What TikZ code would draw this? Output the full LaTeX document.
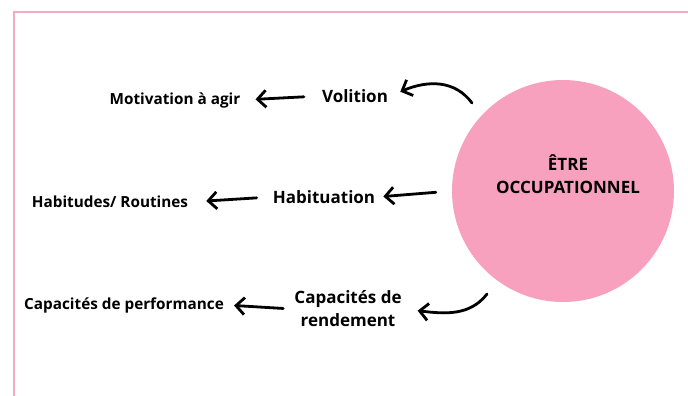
\documentclass[tikz,border=0pt]{standalone}
\usepackage{fontspec}
\setmainfont{Open Sans}
\usetikzlibrary{arrows.meta}

\definecolor{rosefond}{HTML}{F7A1BE}
\definecolor{rosecadre}{HTML}{F4A9C6}

\begin{document}
\begin{tikzpicture}[x=1pt,y=-1pt,
    >={Straight Barb[length=8.5pt,width=17pt]},
    fleche/.style={->,line width=2.8pt,line cap=round},
    sous node/.style={font=\bfseries\fontsize{17}{23}\selectfont,align=center,inner sep=2pt},
    effet node/.style={font=\bfseries\fontsize{15.3}{18}\selectfont,inner sep=2pt}]
  \useasboundingbox (0,0) rectangle (688,396);

  % cadre rose
  \draw[rosecadre,line width=2pt] (14,396) -- (14,12) -- (688,12);

  % cercle central
  \node[circle,fill=rosefond,minimum size=222pt,inner sep=0pt] (etre) at (563,191) {};
  \node[font=\bfseries\fontsize{17}{23}\selectfont,align=center] (titre) at (568,174) {ÊTRE\\OCCUPATIONNEL};

  % sous-systemes
  \node[sous node] (volition) at (355,96) {Volition};
  \node[sous node] (habituation) at (324,197) {Habituation};
  \node[sous node] (rendement) at (348,309) {Capacités de\\rendement};

  % ce qu'ils donnent
  \node[effet node] (motivation) at (175,100) {Motivation à agir};
  \node[effet node] (habitudes) at (110,202) {Habitudes/ Routines};
  \node[effet node] (performance) at (124,305) {Capacités de performance};

  % fleches
  \coordinate (v1) at (472,103);
  \coordinate (r1) at (487,294);
  \draw[fleche,shorten >=11pt] (v1) .. controls (455,80) and (428,80) .. (volition.east);
  \draw[fleche,shorten <=16pt,shorten >=6pt] (etre.west) -- (habituation.east);
  \draw[fleche,shorten >=14pt] (r1) .. controls (470,316) and (445,314) .. (rendement.east);

  \draw[fleche,shorten <=16pt,shorten >=13pt] (volition.west) -- (motivation.east);
  \draw[fleche,shorten <=14pt,shorten >=16pt] (habituation.west) -- (habitudes.east);
  \draw[fleche,shorten <=9pt,shorten >=8pt] (rendement.west) -- (performance.east);
\end{tikzpicture}
\end{document}
